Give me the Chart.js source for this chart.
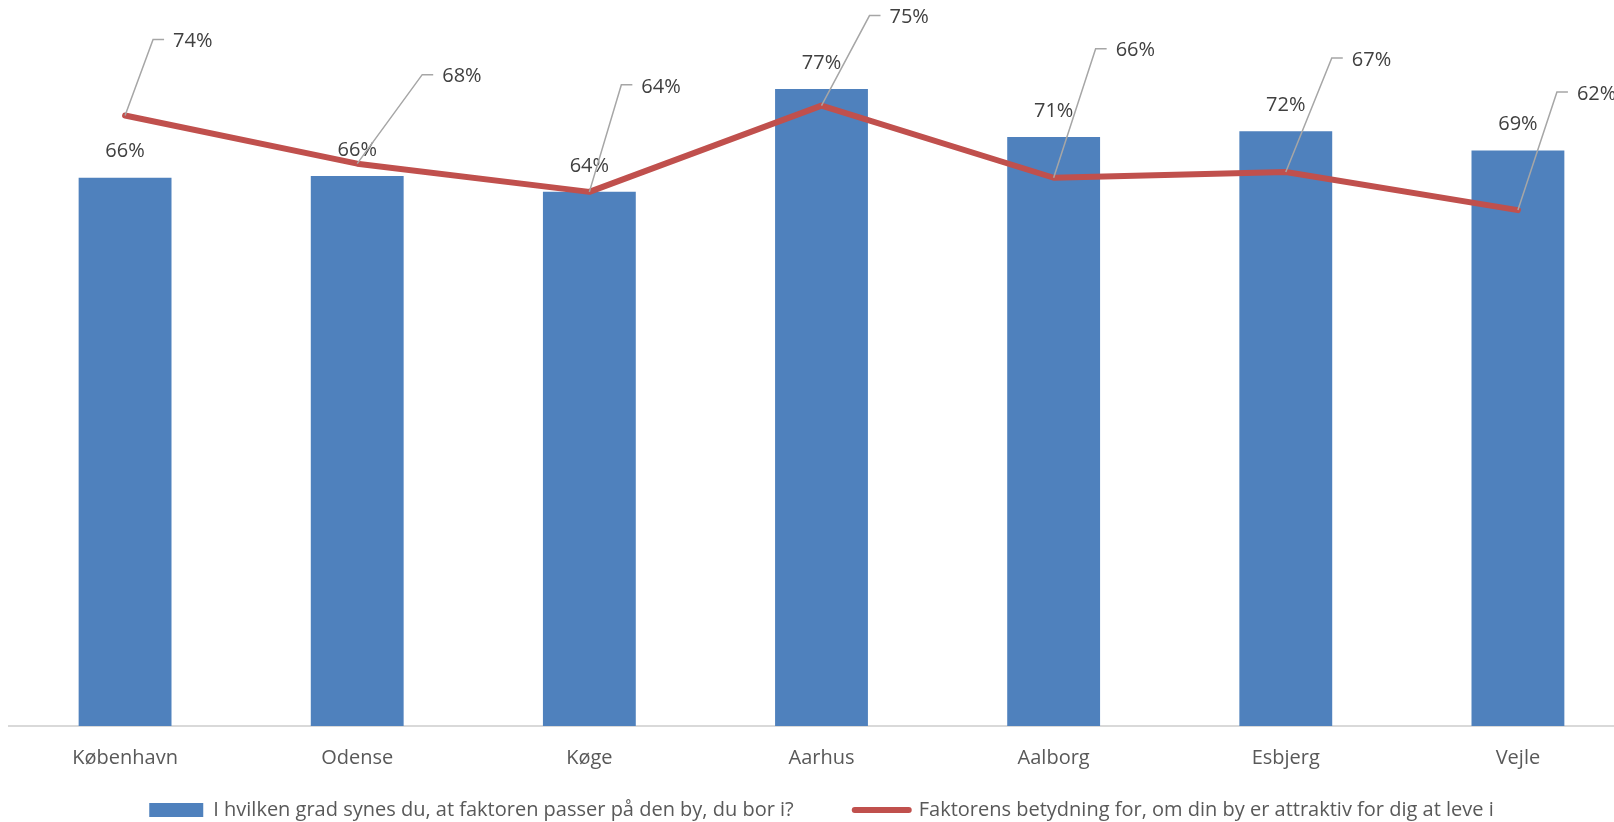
<!DOCTYPE html>
<html>
<head>
<meta charset="utf-8">
<script src="https://cdn.jsdelivr.net/npm/chart.js@4/dist/chart.umd.min.js"></script>
<style>
  html, body { margin: 0; padding: 0; background: #fff; overflow: hidden; }
  #wrap { position: absolute; left: 0; top: 0; width: 1644px; height: 822px; }
</style>
</head>
<body>
<div id="wrap"><canvas id="myChart" width="1644" height="822"></canvas></div>
<script>
// byer
const cities = ["København", "Odense", "Køge", "Aarhus", "Aalborg", "Esbjerg", "Vejle"];
// søjler: passer faktoren på byen (%)
const fitValues = [66.1, 66.3, 64.4, 76.8, 71.0, 71.7, 69.4];
// linje: faktorens betydning (%)
const importanceValues = [73.6, 67.8, 64.4, 74.8, 66.1, 66.8, 62.2];

const barLabel = "I hvilken grad synes du, at faktoren passer på den by, du bor i?";
const lineLabel = "Faktorens betydning for, om din by er attraktiv for dig at leve i";

// placering af label-pile (px fra punktet), sat i hånden ligesom i originalen
const calloutOffsets = [[28, -76], [65, -89], [32, -107], [48, -90], [42, -129], [46, -114], [39, -118]];

const FONT = "'Open Sans', 'Noto Sans', sans-serif";
const barColor = "#4f81bd";
const lineColor = "#c0504d";

const valueLabels = {
  id: "valueLabels",
  afterDatasetsDraw(chart) {
    const ctx = chart.ctx;
    ctx.save();
    ctx.font = "20px " + FONT;
    ctx.textBaseline = "middle";

    // bynavne under aksen (skalaen er lavet lav, så legenden kan få luft)
    const xScale = chart.scales.x;
    ctx.fillStyle = "#595959";
    ctx.textAlign = "center";
    cities.forEach((city, i) => {
      ctx.fillText(city, xScale.getPixelForTick(i), chart.chartArea.bottom + 32);
    });

    // labels over søjler
    ctx.fillStyle = "#404040";
    chart.getDatasetMeta(0).data.forEach((bar, i) => {
      ctx.fillText(Math.round(fitValues[i]) + "%", bar.x, bar.y - 26);
    });

    // labels med streg til linjepunkter
    ctx.textAlign = "left";
    chart.getDatasetMeta(1).data.forEach((pt, i) => {
      const dx = calloutOffsets[i][0];
      const dy = calloutOffsets[i][1];
      const bx = pt.x + dx;
      const by = pt.y + dy;
      ctx.beginPath();
      ctx.strokeStyle = "#a6a6a6";
      ctx.lineWidth = 1.5;
      ctx.moveTo(pt.x, pt.y);
      ctx.lineTo(bx, by);
      ctx.lineTo(bx + 11, by);
      ctx.stroke();
      ctx.fillText(Math.round(importanceValues[i]) + "%", bx + 20, by + 2);
    });
    ctx.restore();
  },
};

const config = {
  type: "bar",
  data: {
    labels: cities,
    datasets: [
      {
        type: "bar",
        label: barLabel,
        data: fitValues,
        backgroundColor: barColor,
        categoryPercentage: 0.8,
        barPercentage: 0.5,
        order: 2,
      },
      {
        type: "line",
        label: lineLabel,
        data: importanceValues,
        borderColor: lineColor,
        borderWidth: 6,
        pointRadius: 0,
        tension: 0,
        borderJoinStyle: "round",
        borderCapStyle: "round",
        order: 1,
      },
    ],
  },
  options: {
    responsive: false,
    devicePixelRatio: 1,
    animation: false,
    layout: { padding: { left: 9, right: 10, top: 21, bottom: 0 } },
    plugins: {
      tooltip: { enabled: false },
      legend: {
        position: "bottom",
        maxHeight: 83,
        labels: {
          padding: 61,
          usePointStyle: true,
          pointStyleWidth: 54,
          boxHeight: 14,
          color: "#595959",
          font: { family: FONT, size: 20 },
          generateLabels: () => [
            { text: barLabel, fillStyle: barColor, strokeStyle: barColor, lineWidth: 0, pointStyle: "rect", fontColor: "#595959", hidden: false, datasetIndex: 0 },
            { text: lineLabel, fillStyle: lineColor, strokeStyle: lineColor, lineWidth: 6, lineCap: "round", pointStyle: "line", fontColor: "#595959", hidden: false, datasetIndex: 1 },
          ],
        },
      },
    },
    scales: {
      x: {
        grid: { display: false, drawTicks: false },
        border: { display: true, color: "#d9d9d9", width: 2 },
        ticks: { display: false },
        afterFit: (scale) => {
          scale.height = 13;
        },
      },
      y: {
        display: false,
        min: 0,
        max: 85,
      },
    },
  },
  plugins: [valueLabels],
};

const myChart = new Chart(document.getElementById("myChart"), config);
</script>
</body>
</html>
